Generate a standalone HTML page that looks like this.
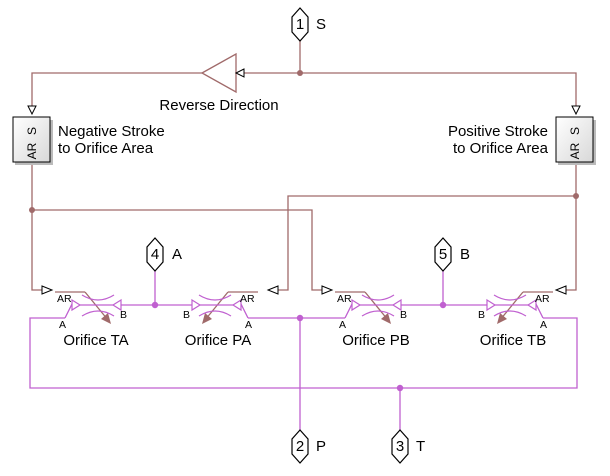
<!DOCTYPE html>
<html><head><style>body{margin:0;background:#fff}svg{display:block}text{font-family:"Liberation Sans",sans-serif}</style></head>
<body>
<svg width="610" height="476" viewBox="0 0 610 476" xmlns="http://www.w3.org/2000/svg">
<defs>
<linearGradient id="bg" x1="0" y1="0" x2="1" y2="1"><stop offset="0" stop-color="#fff"/><stop offset="1" stop-color="#d8d8d8"/></linearGradient>
<g id="orf">
 <path d="M-10,292 L13,320" stroke="#a06a6a" stroke-width="1.3" fill="none"/>
 <path d="M16,324 L6,319 L13,313 Z" fill="#a06a6a"/>
 <path d="M-40,292 H-10" stroke="#a06a6a" stroke-width="1.3" fill="none"/>
 <path d="M-30,318 L-23,304" stroke="#c060d0" stroke-width="1.3" fill="none"/>
 <path d="M-23,300 L-15,305 L-23,310 Z" fill="#fff" stroke="#c060d0" stroke-width="1.2"/>
 <path d="M-15,305 H18" stroke="#c060d0" stroke-width="1.3"/>
 <path d="M-13,295 Q3,305 19,295 M-13,316 Q3,306 19,316" stroke="#c060d0" stroke-width="1.2" fill="none"/>
 <path d="M26,300 L18,305 L26,310 Z" fill="#fff" stroke="#c060d0" stroke-width="1.2"/>
</g>
<g id="hex"><polygon points="0,0 8,9 8,24 0,33 -8,24 -8,9" fill="#fff" stroke="#000" stroke-width="1.2"/></g>
</defs>
<g fill="none" stroke="#a06a6a" stroke-width="1.3">
 <path d="M300,40 V73 M300,73 H576 V108 M300,73 H244 M202,73 H32 V108"/>
 <path d="M32,162 V290 H42 M32,210 H312 V290 H322 M576,162 V290 H566 M576,196 H288 V290 H278"/>
 <polygon points="202,73 236,54 236,92"/>
</g>
<g fill="#fff" stroke="#000" stroke-width="1">
 <path d="M244,69 L236,73 L244,77 Z"/>
 <path d="M28,106 L32,114 L36,106 Z"/>
 <path d="M572,106 L576,114 L580,106 Z"/>
 <path d="M42,286 L52,290 L42,294 Z"/>
 <path d="M322,286 L332,290 L322,294 Z"/>
 <path d="M278,286 L268,290 L278,294 Z"/>
 <path d="M566,286 L556,290 L566,294 Z"/>
</g>
<circle cx="300" cy="73" r="3" fill="#a06a6a"/><circle cx="32" cy="210" r="3" fill="#a06a6a"/><circle cx="576" cy="196" r="3" fill="#a06a6a"/>
<rect x="15" y="120" width="38" height="45" fill="#bbb"/>
<rect x="13" y="117" width="37" height="45" fill="url(#bg)" stroke="#000"/>
<rect x="558" y="120" width="38" height="45" fill="#bbb"/>
<rect x="556" y="117" width="37" height="45" fill="url(#bg)" stroke="#000"/>
<g font-size="12">
<text transform="translate(36,131) rotate(-90)" text-anchor="middle">S</text>
<text transform="translate(36,151) rotate(-90)" text-anchor="middle">AR</text>
<text transform="translate(579,131) rotate(-90)" text-anchor="middle">S</text>
<text transform="translate(579,151) rotate(-90)" text-anchor="middle">AR</text>
</g>
<g font-size="15">
<text x="219" y="110" text-anchor="middle">Reverse Direction</text>
<text x="58" y="136">Negative Stroke</text><text x="58" y="153">to Orifice Area</text>
<text x="548" y="136" text-anchor="end">Positive Stroke</text><text x="548" y="153" text-anchor="end">to Orifice Area</text>
</g>
<g fill="none" stroke="#c060d0" stroke-width="1.3">
 <path d="M121,305 H192 M155,305 V270 M401,305 H487 M443,305 V270"/>
 <path d="M65,318 H30 V388 H577 V318 H543 M248,318 H345 M300,318 V430 M400,388 V430"/>
</g>
<g fill="#c060d0"><circle cx="155" cy="305" r="3.2"/><circle cx="443" cy="305" r="3.2"/><circle cx="300" cy="318" r="3.2"/><circle cx="400" cy="388" r="3.2"/></g>
<use href="#orf" transform="translate(95,0)"/>
<use href="#orf" transform="translate(375,0)"/>
<use href="#orf" transform="translate(218,0) scale(-1,1)"/>
<use href="#orf" transform="translate(513,0) scale(-1,1)"/>
<g font-size="10.5">
<text x="57" y="302">AR</text><text x="59" y="328">A</text><text x="120" y="318">B</text>
<text x="240" y="302">AR</text><text x="245" y="328">A</text><text x="183" y="318">B</text>
<text x="337" y="302">AR</text><text x="339" y="328">A</text><text x="400" y="318">B</text>
<text x="535" y="302">AR</text><text x="540" y="328">A</text><text x="478" y="318">B</text>
</g>
<g font-size="15" text-anchor="middle">
<text x="96" y="345">Orifice TA</text><text x="218" y="345">Orifice PA</text>
<text x="376" y="345">Orifice PB</text><text x="513" y="345">Orifice TB</text>
</g>
<use href="#hex" transform="translate(300,8)"/><use href="#hex" transform="translate(155,238)"/><use href="#hex" transform="translate(443,238)"/><use href="#hex" transform="translate(300,430)"/><use href="#hex" transform="translate(400,430)"/>
<g font-size="15">
<text x="300" y="29" text-anchor="middle">1</text><text x="316" y="29">S</text>
<text x="155" y="259" text-anchor="middle">4</text><text x="172" y="259">A</text>
<text x="443" y="259" text-anchor="middle">5</text><text x="460" y="259">B</text>
<text x="300" y="451" text-anchor="middle">2</text><text x="316" y="451">P</text>
<text x="400" y="451" text-anchor="middle">3</text><text x="416" y="451">T</text>
</g>
</svg>
</body></html>
